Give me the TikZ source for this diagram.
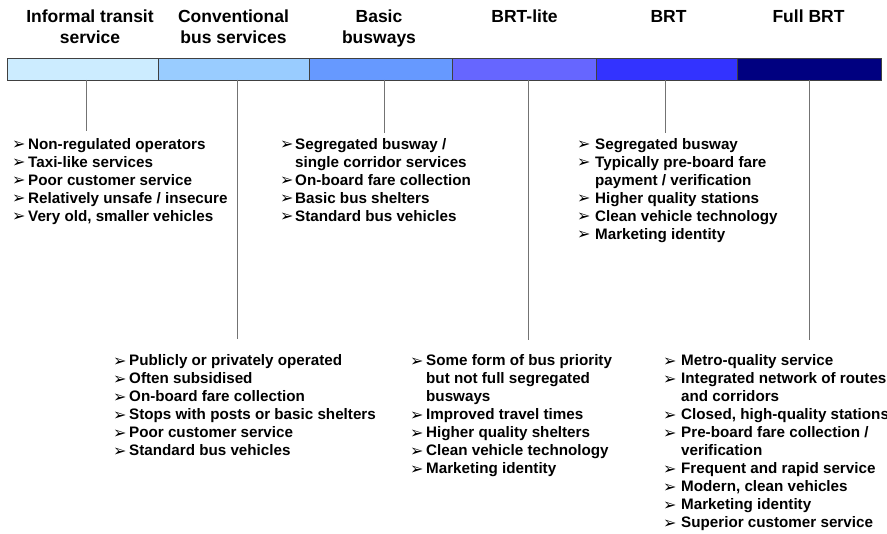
\documentclass[tikz,border=0pt]{standalone}
\usepackage{fontspec}
\setmainfont{Liberation Sans}
\newfontfamily\dvfont{DejaVu Sans}
\newlength\bw
\newcommand{\bul}{{\dvfont\fontsize{16}{16}\selectfont\raisebox{-0.3pt}{➢}}}
\newcommand{\itm}[1]{\makebox[\bw][l]{\bul}#1}
\newcommand{\cnt}[1]{\hspace*{\bw}#1}
\definecolor{c1}{HTML}{CCECFF}
\definecolor{c2}{HTML}{99CCFF}
\definecolor{c3}{HTML}{6699FF}
\definecolor{c4}{HTML}{6666FF}
\definecolor{c5}{HTML}{3333FF}
\definecolor{c6}{HTML}{000080}
\tikzset{
  hdr/.style={anchor=base, inner sep=0pt, font=\fontsize{17.5}{21}\selectfont\bfseries},
  blk/.style={anchor=base west, inner sep=0pt, font=\fontsize{15.2}{18}\selectfont\bfseries},
  seg/.style={draw=black!75, line width=0.9pt, anchor=north west, minimum height=22pt, inner sep=0pt, outer sep=0pt},
  tick/.style={draw=black!55, line width=0.9pt}
}
\begin{document}
\begin{tikzpicture}[x=1pt,y=-1pt]
\useasboundingbox (0,0) rectangle (887,534);
\fill[white] (0,0) rectangle (887,534);
% headers
\node[hdr] (h1) at (90,22.5) {\begin{tabular}[t]{@{}c@{}}Informal transit\\service\end{tabular}};
\node[hdr] (h2) at (233.5,22.5) {\begin{tabular}[t]{@{}c@{}}Conventional\\bus services\end{tabular}};
\node[hdr] (h3) at (379,22.5) {\begin{tabular}[t]{@{}c@{}}Basic\\busways\end{tabular}};
\node[hdr] (h4) at (524.5,22.5) {BRT-lite};
\node[hdr] (h5) at (668.5,22.5) {BRT};
\node[hdr] (h6) at (808.5,22.5) {Full BRT};
% bar
\node[seg, fill=c1, minimum width=151pt] (s1) at (7,58) {};
\node[seg, fill=c2, minimum width=151pt] (s2) at (158,58) {};
\node[seg, fill=c3, minimum width=143pt] (s3) at (309,58) {};
\node[seg, fill=c4, minimum width=144pt] (s4) at (452,58) {};
\node[seg, fill=c5, minimum width=141pt] (s5) at (596,58) {};
\node[seg, fill=c6, minimum width=144pt] (s6) at (737,58) {};
% tick ends
\coordinate (e1) at (86.5,131);
\coordinate (e2) at (237.5,339);
\coordinate (e3) at (384,133);
\coordinate (e4) at (528,340);
\coordinate (e5) at (665.5,133);
\coordinate (e6) at (809,340);
\draw[tick] (s1.south -| e1) -- (e1);
\draw[tick] (s2.south -| e2) -- (e2);
\draw[tick] (s3.south -| e3) -- (e3);
\draw[tick] (s4.south -| e4) -- (e4);
\draw[tick] (s5.south -| e5) -- (e5);
\draw[tick] (s6.south -| e6) -- (e6);
% blocks
\node[blk] (b1) at (12,149.5) {\setlength\bw{16pt}\begin{tabular}[t]{@{}l@{}}
\itm{Non-regulated operators}\\
\itm{Taxi-like services}\\
\itm{Poor customer service}\\
\itm{Relatively unsafe / insecure}\\
\itm{Very old, smaller vehicles}
\end{tabular}};
\node[blk] (b3) at (280,149.5) {\setlength\bw{15pt}\begin{tabular}[t]{@{}l@{}}
\itm{Segregated busway /}\\
\cnt{single corridor services}\\
\itm{On-board fare collection}\\
\itm{Basic bus shelters}\\
\itm{Standard bus vehicles}
\end{tabular}};
\node[blk] (b5) at (577,149.5) {\setlength\bw{18pt}\begin{tabular}[t]{@{}l@{}}
\itm{Segregated busway}\\
\itm{Typically pre-board fare}\\
\cnt{payment / verification}\\
\itm{Higher quality stations}\\
\itm{Clean vehicle technology}\\
\itm{Marketing identity}
\end{tabular}};
\node[blk] (b2) at (113,366) {\setlength\bw{16pt}\begin{tabular}[t]{@{}l@{}}
\itm{Publicly or privately operated}\\
\itm{Often subsidised}\\
\itm{On-board fare collection}\\
\itm{Stops with posts or basic shelters}\\
\itm{Poor customer service}\\
\itm{Standard bus vehicles}
\end{tabular}};
\node[blk] (b4) at (410,366) {\setlength\bw{16pt}\begin{tabular}[t]{@{}l@{}}
\itm{Some form of bus priority}\\
\cnt{but not full segregated}\\
\cnt{busways}\\
\itm{Improved travel times}\\
\itm{Higher quality shelters}\\
\itm{Clean vehicle technology}\\
\itm{Marketing identity}
\end{tabular}};
\node[blk] (b6) at (663,366) {\setlength\bw{18pt}\begin{tabular}[t]{@{}l@{}}
\itm{Metro-quality service}\\
\itm{Integrated network of routes}\\
\cnt{and corridors}\\
\itm{Closed, high-quality stations}\\
\itm{Pre-board fare collection /}\\
\cnt{verification}\\
\itm{Frequent and rapid service}\\
\itm{Modern, clean vehicles}\\
\itm{Marketing identity}\\
\itm{Superior customer service}
\end{tabular}};
\end{tikzpicture}
\end{document}
